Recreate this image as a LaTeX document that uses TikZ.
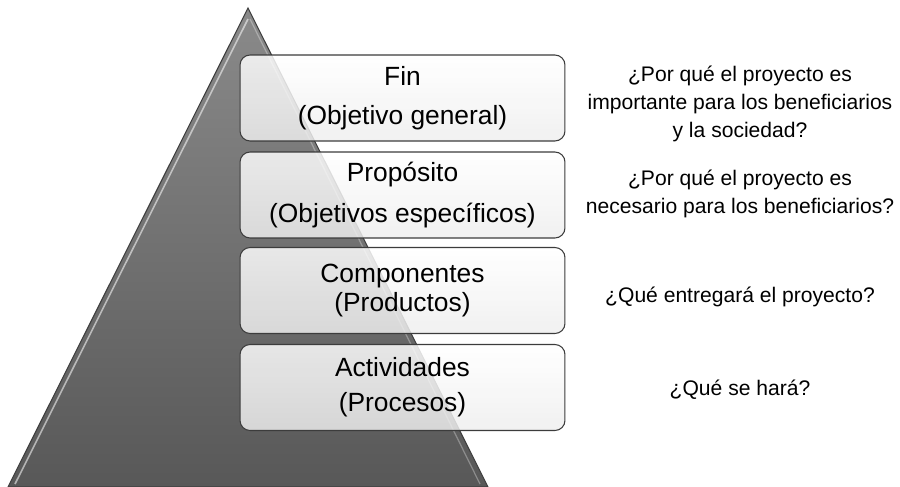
\documentclass[tikz,border=0pt]{standalone}
\usepackage{fontspec}
\setmainfont{Liberation Sans}
\usepackage{xcolor}
\definecolor{cTop}{RGB}{138,138,138}
\definecolor{cBot}{RGB}{88,88,88}
\definecolor{cEdge}{RGB}{60,60,60}
\definecolor{cBox}{RGB}{238,238,238}
\usetikzlibrary{positioning, calc}

\begin{document}
\begin{tikzpicture}[x=0.02cm, y=-0.02cm,
    box/.style={draw=cEdge, line width=0.6pt, rounded corners=0.2cm,
      minimum width=6.5cm, minimum height=1.72cm, top color=white,
      bottom color=cBox, fill opacity=0.84, text opacity=1, align=center,
      font=\fontsize{15}{22.5}\selectfont},
    ask/.style={align=center, font=\fontsize{12}{15.8}\selectfont}]
    \useasboundingbox (0,0) rectangle (900,487);

    % ---------- pyramid ----------
    \coordinate (apex) at (248,8);
    \coordinate (bl) at (8,487);
    \coordinate (br) at (488,487);
    \shade[top color=cTop, bottom color=cBot, draw=cBot!70!black, line width=0.6pt]
      (apex) -- (bl) -- (br) -- cycle;
    \draw[white, opacity=0.55, line width=0.9pt] (248,19) -- (15,484);
    \draw[white, opacity=0.3, line width=0.7pt] (250,19) -- (480,484);

    % ---------- levels ----------
    \node[box] (fin) at (402.5,98) {Fin\\(Objetivo general)};
    \node[box] (prop) at (402.5,195) {Propósito\\[1pt](Objetivos específicos)};
    \node[box] (comp) at (402.5,290.5) {Componentes\\[-6.5pt](Productos)};
    \node[box] (act) at (402.5,387.5) {Actividades\\[-2.5pt](Procesos)};

    % ---------- questions ----------
    \node[ask] (qfin) at (740,104)
      {¿Por qué el proyecto es\\importante para los beneficiarios\\y la sociedad?};
    \node[ask] (qprop) at (740,194)
      {¿Por qué el proyecto es\\necesario para los beneficiarios?};
    \node[ask] (qcomp) at (740,297) {¿Qué entregará el proyecto?};
    \node[ask] (qact) at (740,390) {¿Qué se hará?};
\end{tikzpicture}
\end{document}
